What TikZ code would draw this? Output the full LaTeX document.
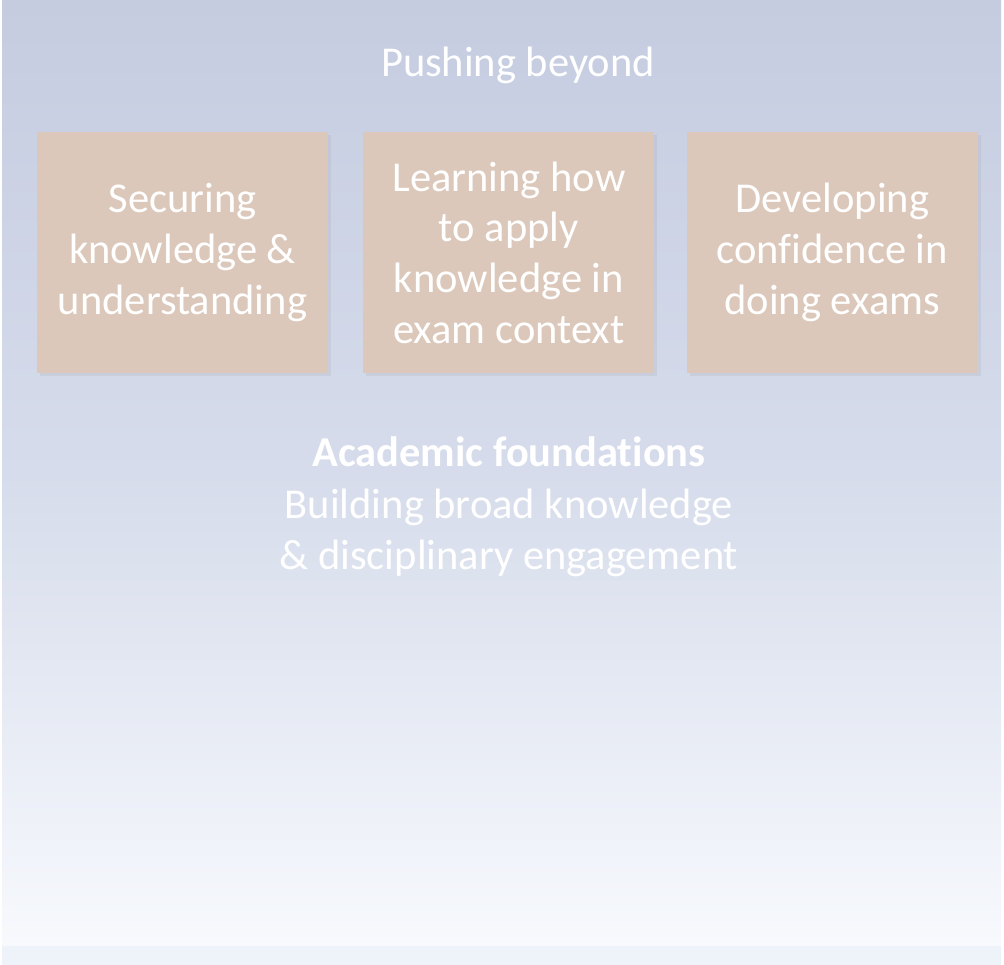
\documentclass[tikz,border=0pt]{standalone}
\usepackage{fontspec}
\setmainfont[Ligatures=NoCommon]{Carlito}
\usetikzlibrary{positioning,shadows}
\definecolor{bgtop}{HTML}{C5CCE0}
\definecolor{bgmid}{HTML}{D6DCEB}
\definecolor{bgbot}{HTML}{F7F9FD}
\definecolor{stripc}{HTML}{EEF3FA}
\definecolor{tanbox}{HTML}{DBC8BA}
\begin{document}
\begin{tikzpicture}
[x=1pt,y=-1pt,
 stage/.style={fill=tanbox, minimum width=291pt, minimum height=241pt,
   inner sep=0pt, align=center, text=white,
   font=\fontsize{42.5}{50.7}\selectfont,
   drop shadow={opacity=0.12, shadow xshift=3pt, shadow yshift=-3pt}},
 title/.style={text=white, align=center, font=\fontsize{42.5}{51.5}\selectfont}]
\useasboundingbox (0,0) rectangle (1004,965);
\fill[white] (0,0) rectangle (1004,965);
\shade[top color=bgtop, bottom color=bgbot, middle color=bgmid] (2,0) rectangle (1001,946);
\fill[stripc] (2,946) rectangle (1001,965);
\node[title](beyond) at (518,65){Pushing beyond};
\node[stage](secure) at (182.5,252.5){Securing\\knowledge \&\\understanding};
\node[stage, right=35pt of secure](apply){Learning how\\to apply\\knowledge in\\exam context};
\node[stage, right=32pt of apply](confid){Developing\\confidence in\\doing exams};
\node[title](found) at (509,507){\textbf{Academic foundations}\\Building broad knowledge\\\& disciplinary engagement};
\end{tikzpicture}
\end{document}
